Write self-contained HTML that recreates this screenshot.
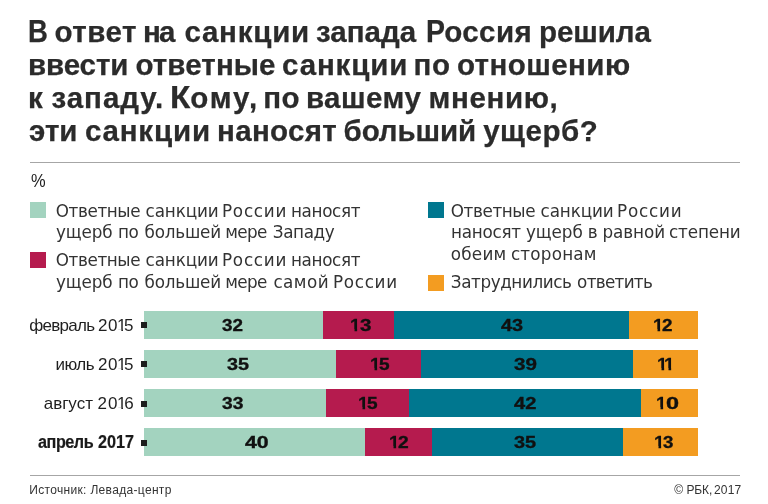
<!DOCTYPE html>
<html lang="ru">
<head>
<meta charset="utf-8">
<title>Санкции</title>
<style>
html,body{margin:0;padding:0;background:#fff;}
body{width:768px;height:504px;position:relative;overflow:hidden;font-family:"Liberation Sans",sans-serif;}
.w{position:absolute;white-space:pre;line-height:40px;}
.t{font-weight:bold;font-size:29.5px;-webkit-text-stroke:0.25px #2b2b2b;color:#2b2b2b;}
.tc{font-weight:bold;font-size:32px;-webkit-text-stroke:0.25px #2b2b2b;transform-origin:0 0;color:#2b2b2b;}
.l{font-family:'DejaVu Sans',sans-serif;font-size:16.8px;color:#333;}
.p{font-size:18.5px;transform-origin:0 0;transform:scaleX(0.87);color:#222;}
.b{font-size:17px;color:#1f1f1f;}
.bb{font-size:18px;font-weight:bold;-webkit-text-stroke:0.2px #1a1a1a;transform-origin:0 0;transform:scaleX(0.9);color:#1a1a1a;}
.n{font-size:17px;font-weight:bold;-webkit-text-stroke:0.35px #101010;transform-origin:0 0;transform:scaleX(1.13);color:#101010;}
.s{font-size:12px;color:#333;}
.r{position:absolute;left:30px;width:710px;height:1px;background:#a6a6a6;}
.q{position:absolute;width:16px;height:16px;}
.g{position:absolute;height:28px;}
.d{position:absolute;left:141px;width:6px;height:6px;background:#1d1d1d;}
.c1{background:#a3d3bf;}
.c2{background:#b51b4e;}
.c3{background:#00778f;}
.c4{background:#f39c21;}
.kb{clip-path:polygon(0 0,0.345em 0,0.345em 100%,0.25em 100%,0.25em calc(25px - 0.085em),0 calc(25px - 0.085em));}
.kn{clip-path:polygon(0 0,0.372em 0,0.372em 100%,0.235em 100%,0.235em calc(25px - 0.115em),0 calc(25px - 0.115em));}
</style>
</head>
<body>
<div class="r" style="top:161.5px"></div>
<div class="r" style="top:475px"></div>
<div class="q c1" style="left:30px;top:202px"></div>
<div class="q c2" style="left:30px;top:252px"></div>
<div class="q c3" style="left:428px;top:202px"></div>
<div class="q c4" style="left:428px;top:275px"></div>
<div class="g c1" style="left:144px;top:311px;width:179px"></div><div class="g c2" style="left:323px;top:311px;width:71px"></div><div class="g c3" style="left:394px;top:311px;width:235px"></div><div class="g c4" style="left:629px;top:311px;width:69px"></div><div class="d" style="top:322px"></div>
<div class="g c1" style="left:144px;top:350px;width:192px"></div><div class="g c2" style="left:336px;top:350px;width:85px"></div><div class="g c3" style="left:421px;top:350px;width:212px"></div><div class="g c4" style="left:633px;top:350px;width:65px"></div><div class="d" style="top:361px"></div>
<div class="g c1" style="left:144px;top:389px;width:182px"></div><div class="g c2" style="left:326px;top:389px;width:83px"></div><div class="g c3" style="left:409px;top:389px;width:232px"></div><div class="g c4" style="left:641px;top:389px;width:57px"></div><div class="d" style="top:401px"></div>
<div class="g c1" style="left:144px;top:428px;width:221px"></div><div class="g c2" style="left:365px;top:428px;width:67px"></div><div class="g c3" style="left:432px;top:428px;width:191px"></div><div class="g c4" style="left:623px;top:428px;width:75px"></div><div class="d" style="top:440px"></div>
<span class="w tc" style="left:28.3px;top:11px;transform:scaleX(0.860);">В </span>
<span class="w t" style="left:54.5px;top:12px;letter-spacing:0.52px;">ответ </span>
<span class="w t" style="left:142.9px;top:12px;letter-spacing:-1.65px;">на </span>
<span class="w t" style="left:184.4px;top:12px;letter-spacing:0.78px;">санкции </span>
<span class="w t" style="left:316.0px;top:12px;">запада </span>
<span class="w tc" style="left:426.0px;top:11px;transform:scaleX(0.889);">Р</span>
<span class="w t" style="left:444.2px;top:12px;letter-spacing:0.45px;">оссия </span>
<span class="w t" style="left:539.1px;top:12px;letter-spacing:-0.12px;">решила </span>
<span class="w t" style="left:28.0px;top:45px;letter-spacing:-0.10px;">ввести </span>
<span class="w t" style="left:135.4px;top:45px;letter-spacing:0.11px;">ответные </span>
<span class="w t" style="left:282.0px;top:45px;letter-spacing:0.87px;">санкции </span>
<span class="w t" style="left:413.6px;top:45px;letter-spacing:0.50px;">по </span>
<span class="w t" style="left:456.9px;top:45px;letter-spacing:0.44px;">отношению </span>
<span class="w t" style="left:28.0px;top:78px;">к </span>
<span class="w t" style="left:51.5px;top:78px;letter-spacing:0.96px;">западу. </span>
<span class="w tc" style="left:169.8px;top:77px;transform:scaleX(1.041);">К</span>
<span class="w t" style="left:190.2px;top:78px;letter-spacing:1.87px;">ому, </span>
<span class="w t" style="left:263.2px;top:78px;letter-spacing:0.55px;">по </span>
<span class="w t" style="left:305.9px;top:78px;letter-spacing:0.47px;">вашему </span>
<span class="w t" style="left:428.6px;top:78px;letter-spacing:0.62px;">мнению, </span>
<span class="w t" style="left:29.0px;top:111px;">эти </span>
<span class="w t" style="left:84.9px;top:111px;letter-spacing:0.83px;">санкции </span>
<span class="w t" style="left:217.1px;top:111px;letter-spacing:0.32px;">наносят </span>
<span class="w t" style="left:343.6px;top:111px;letter-spacing:-0.12px;">больший </span>
<span class="w t" style="left:483.2px;top:111px;letter-spacing:0.52px;">ущерб? </span>
<span class="w p" style="left:31.2px;top:161px;transform:scaleX(0.890);">%</span>
<span class="w l" style="left:55.8px;top:191px;letter-spacing:-0.40px;">Ответные </span>
<span class="w l" style="left:145.5px;top:191px;letter-spacing:-0.10px;">санкции </span>
<span class="w l" style="left:222.0px;top:191px;letter-spacing:0.75px;">России </span>
<span class="w l" style="left:290.9px;top:191px;letter-spacing:-0.33px;">наносят </span>
<span class="w l" style="left:56.1px;top:212px;letter-spacing:-0.15px;">ущерб </span>
<span class="w l" style="left:118.0px;top:212px;letter-spacing:-0.40px;">по </span>
<span class="w l" style="left:144.6px;top:212px;letter-spacing:-0.23px;">большей </span>
<span class="w l" style="left:225.3px;top:212px;letter-spacing:-0.63px;">мере </span>
<span class="w l" style="left:272.8px;top:212px;letter-spacing:-0.38px;">Западу </span>
<span class="w l" style="left:55.8px;top:240px;letter-spacing:-0.40px;">Ответные </span>
<span class="w l" style="left:145.5px;top:240px;letter-spacing:-0.10px;">санкции </span>
<span class="w l" style="left:222.0px;top:240px;letter-spacing:0.75px;">России </span>
<span class="w l" style="left:290.9px;top:240px;letter-spacing:-0.33px;">наносят </span>
<span class="w l" style="left:56.1px;top:262px;letter-spacing:-0.15px;">ущерб </span>
<span class="w l" style="left:118.0px;top:262px;letter-spacing:-0.40px;">по </span>
<span class="w l" style="left:144.6px;top:262px;letter-spacing:-0.23px;">большей </span>
<span class="w l" style="left:225.3px;top:262px;letter-spacing:-0.63px;">мере </span>
<span class="w l" style="left:273.4px;top:262px;letter-spacing:0.48px;">самой </span>
<span class="w l" style="left:333.0px;top:262px;letter-spacing:0.68px;">России </span>
<span class="w l" style="left:450.8px;top:191px;letter-spacing:-0.40px;">Ответные </span>
<span class="w l" style="left:540.5px;top:191px;letter-spacing:-0.10px;">санкции </span>
<span class="w l" style="left:617.0px;top:191px;letter-spacing:0.82px;">России </span>
<span class="w l" style="left:451.1px;top:212px;letter-spacing:-0.28px;">наносят </span>
<span class="w l" style="left:526.0px;top:212px;letter-spacing:-0.07px;">ущерб </span>
<span class="w l" style="left:587.7px;top:212px;">в </span>
<span class="w l" style="left:602.5px;top:212px;letter-spacing:-0.08px;">равной </span>
<span class="w l" style="left:669.0px;top:212px;letter-spacing:-0.13px;">степени </span>
<span class="w l" style="left:450.8px;top:234px;letter-spacing:0.22px;">обеим </span>
<span class="w l" style="left:510.9px;top:234px;letter-spacing:0.21px;">сторонам </span>
<span class="w l" style="left:450.8px;top:262px;letter-spacing:-0.41px;">Затруднились </span>
<span class="w l" style="left:577.1px;top:262px;letter-spacing:-0.70px;">ответить </span>
<span class="w b" style="left:29.3px;top:306px;letter-spacing:-0.72px;">февраль </span>
<span class="w b" style="left:97.9px;top:306px;letter-spacing:0.60px;">20 </span>
<span class="w b kb" style="left:117.1px;top:306px;">1</span>
<span class="w b" style="left:124.1px;top:306px;">5</span>
<span class="w b" style="left:55.5px;top:345px;letter-spacing:-0.50px;">июль </span>
<span class="w b" style="left:97.9px;top:345px;letter-spacing:0.60px;">20 </span>
<span class="w b kb" style="left:117.1px;top:345px;">1</span>
<span class="w b" style="left:124.1px;top:345px;">5</span>
<span class="w b" style="left:43.7px;top:384px;">август </span>
<span class="w b" style="left:97.5px;top:384px;letter-spacing:1.10px;">20 </span>
<span class="w b kb" style="left:117.1px;top:384px;">1</span>
<span class="w b" style="left:124.2px;top:384px;">6</span>
<span class="w bb" style="left:38.1px;top:422px;letter-spacing:-0.51px;">апрель </span>
<span class="w bb" style="left:98.2px;top:422px;">2017 </span>
<span class="w n" style="left:221.7px;top:306px;transform:scaleX(1.108);">32 </span>
<span class="w n kn" style="left:349.9px;top:306px;">1</span>
<span class="w n" style="left:359.8px;top:306px;transform:scaleX(1.209);">3</span>
<span class="w n" style="left:501.0px;top:306px;transform:scaleX(1.168);">43 </span>
<span class="w n kn" style="left:653.2px;top:306px;">1</span>
<span class="w n" style="left:661.8px;top:306px;transform:scaleX(1.107);">2</span>
<span class="w n" style="left:226.7px;top:345px;transform:scaleX(1.162);">35 </span>
<span class="w n kn" style="left:369.9px;top:345px;">1</span>
<span class="w n" style="left:379.4px;top:345px;transform:scaleX(1.119);">5</span>
<span class="w n" style="left:514.0px;top:345px;transform:scaleX(1.211);">39 </span>
<span class="w n kn" style="left:656.6px;top:345px;">1</span>
<span class="w n kn" style="left:664.3px;top:345px;">1</span>
<span class="w n" style="left:221.7px;top:384px;transform:scaleX(1.130);">33 </span>
<span class="w n kn" style="left:357.9px;top:384px;">1</span>
<span class="w n" style="left:367.4px;top:384px;transform:scaleX(1.119);">5</span>
<span class="w n" style="left:514.0px;top:384px;transform:scaleX(1.184);">42 </span>
<span class="w n kn" style="left:655.9px;top:384px;">1</span>
<span class="w n" style="left:665.5px;top:384px;transform:scaleX(1.379);">0</span>
<span class="w n" style="left:245.0px;top:423px;transform:scaleX(1.254);">40 </span>
<span class="w n kn" style="left:388.8px;top:423px;">1</span>
<span class="w n" style="left:397.5px;top:423px;transform:scaleX(1.130);">2</span>
<span class="w n" style="left:514.0px;top:423px;transform:scaleX(1.168);">35 </span>
<span class="w n kn" style="left:653.6px;top:423px;">1</span>
<span class="w n" style="left:663.3px;top:423px;transform:scaleX(1.096);">3</span>
<span class="w s" style="left:29.2px;top:470px;letter-spacing:0.33px;">Источник: Левада-центр </span>
<span class="w s" style="left:674.2px;top:470px;">© </span>
<span class="w s" style="left:686.4px;top:470px;letter-spacing:-0.10px;">РБК, </span>
<span class="w s" style="left:714.0px;top:470px;letter-spacing:0.20px;">2017 </span>
</body>
</html>
